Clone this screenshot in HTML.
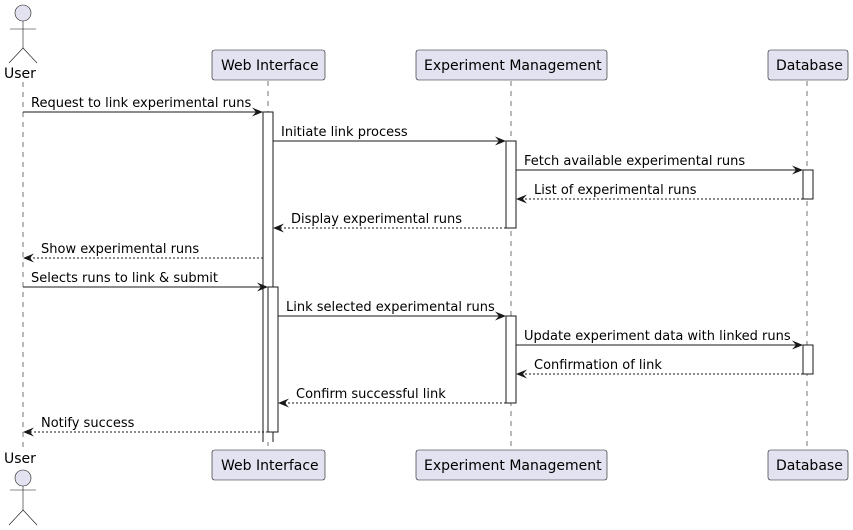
<!DOCTYPE html>
<html><head><meta charset="utf-8"><style>html,body{margin:0;padding:0;background:#fff}svg{display:block}text{font-family:"DejaVu Sans","Liberation Sans",sans-serif;font-size:13px;fill:#000}.p{font-size:14px}</style></head><body>
<svg width="853" height="530" viewBox="0 0 853 530" xmlns="http://www.w3.org/2000/svg">
<defs>
<marker id="a" markerWidth="12" markerHeight="10" refX="10" refY="4.5" orient="auto" markerUnits="userSpaceOnUse"><polygon points="0,0 11,4.5 0,9 4,4.5" fill="#181818"/></marker>
</defs>
<g stroke="#181818" stroke-width="0.6" stroke-dasharray="5,5">
<line x1="23" y1="82" x2="23" y2="450"/>
<line x1="268" y1="81" x2="268" y2="450"/>
<line x1="511" y1="81" x2="511" y2="450"/>
<line x1="807" y1="81" x2="807" y2="450"/>
</g>
<g fill="#E2E2F0" stroke="#181818" stroke-width="0.6">
<rect x="212" y="50" width="113" height="30" rx="2.5"/>
<rect x="416" y="50" width="191" height="30" rx="2.5"/>
<rect x="768" y="50" width="80" height="30" rx="2.5"/>
<rect x="212" y="450" width="113" height="30" rx="2.5"/>
<rect x="416" y="450" width="191" height="30" rx="2.5"/>
<rect x="768" y="450" width="80" height="30" rx="2.5"/>
</g>
<text class="p" x="221" y="70">Web Interface</text>
<text class="p" x="424" y="70">Experiment Management</text>
<text class="p" x="776" y="70">Database</text>
<text class="p" x="221" y="470">Web Interface</text>
<text class="p" x="424" y="470">Experiment Management</text>
<text class="p" x="776" y="470">Database</text>
<g fill="none" stroke="#181818" stroke-width="0.6">
<circle cx="23" cy="13" r="8" fill="#E2E2F0"/>
<line x1="23" y1="21" x2="23" y2="48"/><line x1="10" y1="29" x2="36" y2="29"/>
<path d="M9,63 L23,48 L37,63"/>
<circle cx="23" cy="478" r="8" fill="#E2E2F0"/>
<line x1="23" y1="486" x2="23" y2="510"/><line x1="10" y1="490" x2="36" y2="490"/>
<path d="M9,525 L23,510 L37,525"/>
</g>
<text class="p" x="4" y="78">User</text>
<text class="p" x="4" y="463">User</text>
<g fill="#fff" stroke="#181818" stroke-width="1">
<path d="M263,442 V112 H273 V442" />
<rect x="268" y="287" width="10" height="145"/>
<rect x="506" y="141" width="10" height="87"/>
<rect x="506" y="316" width="10" height="87"/>
<rect x="803" y="170" width="10" height="29"/>
<rect x="803" y="345" width="10" height="29"/>
</g>
<g stroke="#181818" stroke-width="1" marker-end="url(#a)">
<line x1="23" y1="112" x2="262" y2="112"/>
<line x1="273" y1="141" x2="505" y2="141"/>
<line x1="516" y1="170" x2="802" y2="170"/>
<line x1="803" y1="199" x2="517" y2="199" stroke-dasharray="2,2"/>
<line x1="506" y1="228" x2="274" y2="228" stroke-dasharray="2,2"/>
<line x1="263" y1="258" x2="24" y2="258" stroke-dasharray="2,2"/>
<line x1="23" y1="287" x2="267" y2="287"/>
<line x1="278" y1="316" x2="505" y2="316"/>
<line x1="516" y1="345" x2="802" y2="345"/>
<line x1="803" y1="374" x2="517" y2="374" stroke-dasharray="2,2"/>
<line x1="506" y1="403" x2="279" y2="403" stroke-dasharray="2,2"/>
<line x1="268" y1="432" x2="24" y2="432" stroke-dasharray="2,2"/>
</g>
<text x="31" y="107">Request to link experimental runs</text>
<text x="281" y="136">Initiate link process</text>
<text x="524" y="165">Fetch available experimental runs</text>
<text x="534" y="194">List of experimental runs</text>
<text x="291" y="223">Display experimental runs</text>
<text x="41" y="253">Show experimental runs</text>
<text x="31" y="282">Selects runs to link &amp; submit</text>
<text x="286" y="311">Link selected experimental runs</text>
<text x="524" y="340">Update experiment data with linked runs</text>
<text x="534" y="369">Confirmation of link</text>
<text x="296" y="398">Confirm successful link</text>
<text x="41" y="427">Notify success</text>
</svg>
</body></html>
